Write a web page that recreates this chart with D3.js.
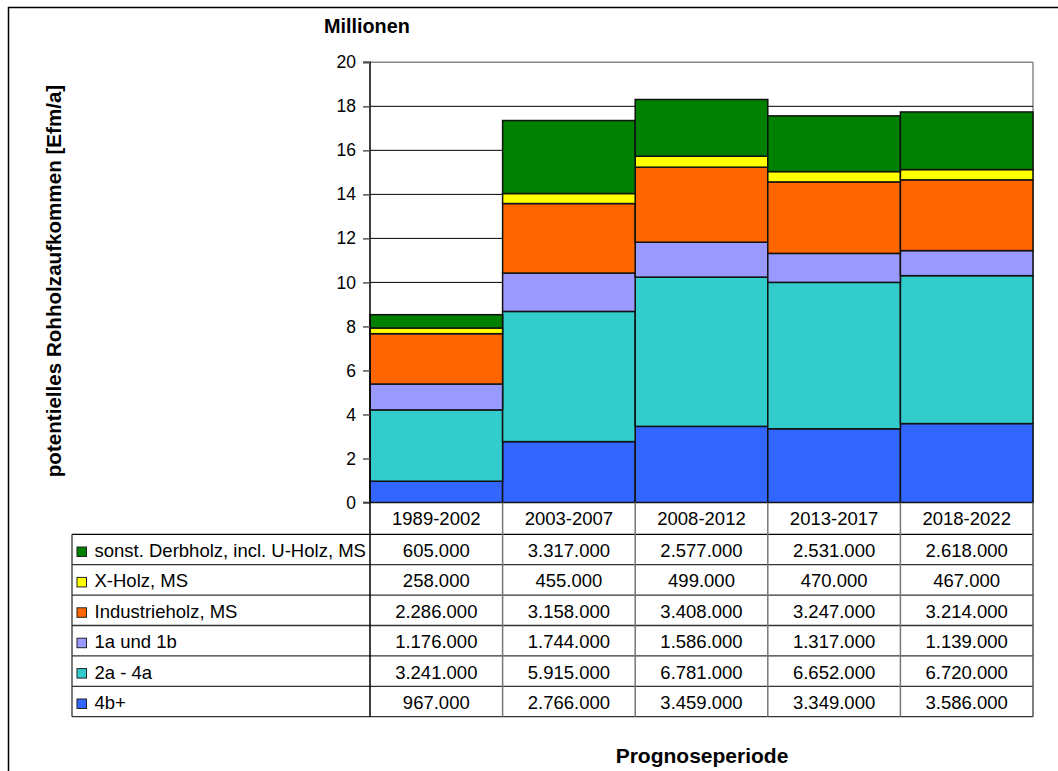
<!DOCTYPE html>
<html><head><meta charset="utf-8">
<script src="https://cdn.jsdelivr.net/npm/d3@7"></script>
<style>
html,body{margin:0;padding:0;background:#fff;}
svg{display:block;font-family:"Liberation Sans",Arial,sans-serif;}
</style></head>
<body><svg id="c" width="1058" height="771"></svg>
<script>
const categories = ["1989-2002","2003-2007","2008-2012","2013-2017","2018-2022"];
// values in thousands (Efm/a), stacking order bottom -> top
const seriesNames = ["4b+","2a - 4a","1a und 1b","Industrieholz, MS","X-Holz, MS","sonst. Derbholz, incl. U-Holz, MS"];
const v4b     = [967, 2766, 3459, 3349, 3586];
const v2a4a   = [3241, 5915, 6781, 6652, 6720];
const v1a1b   = [1176, 1744, 1586, 1317, 1139];
const vIndus  = [2286, 3158, 3408, 3247, 3214];
const vXHolz  = [258, 455, 499, 470, 467];
const vSonst  = [605, 3317, 2577, 2531, 2618];
const seriesColors = ["#3366FF","#33CCCC","#9999FF","#FF6600","#FFFF00","#008000"];
const yTicks = [0,2,4,6,8,10,12,14,16,18,20];

const seriesValues = [v4b, v2a4a, v1a1b, vIndus, vXHolz, vSonst];
const rows = categories.map((c,i)=>{
  const r = {cat:c};
  seriesNames.forEach((s,j)=> r[s] = seriesValues[j][i]/1000);
  return r;
});

const svg = d3.select("#c");
const L = 370, R = 1033, T = 62.3, B = 502.5;
const x = d3.scaleBand().domain(categories).range([L,R]).padding(0);
const y = d3.scaleLinear().domain([0,20]).range([B,T]);

// outer frame
svg.append("rect").attr("x",8.5).attr("y",7.5).attr("width",1060).attr("height",780)
  .attr("fill","none").attr("stroke","#000").attr("stroke-width",1.5);

// plot border (gray top/right)
svg.append("line").attr("x1",L).attr("x2",R).attr("y1",T).attr("y2",T).attr("stroke","#888").attr("stroke-width",1.5);
svg.append("line").attr("x1",R).attr("x2",R).attr("y1",T).attr("y2",B).attr("stroke","#888").attr("stroke-width",1.5);

// gridlines
svg.append("g").selectAll("line").data(yTicks.filter(t=>t>0 && t<20)).join("line")
  .attr("x1",L).attr("x2",R).attr("y1",d=>y(d)).attr("y2",d=>y(d))
  .attr("stroke","#000").attr("stroke-width",1);

// stacked bars
const stack = d3.stack().keys(seriesNames)(rows);
const g = svg.append("g");
stack.forEach((layer,j)=>{
  g.selectAll(null).data(layer).join("rect")
    .attr("x",d=>x(d.data.cat))
    .attr("width",x.bandwidth())
    .attr("y",d=>y(d[1]))
    .attr("height",d=>y(d[0])-y(d[1]))
    .attr("fill",seriesColors[j])
    .attr("stroke","#111").attr("stroke-width",1.5);
});

// y axis
const ya = d3.axisLeft(y).tickValues(yTicks).tickSize(7).tickPadding(7).tickFormat(d3.format("d"));
const yg = svg.append("g").attr("transform",`translate(${L},0)`).call(ya);
yg.select(".domain").attr("stroke","#000").attr("stroke-width",1.5).attr("d",`M-7,${T}H0V${B}H-7`);
yg.selectAll(".tick line").attr("stroke","#555").attr("stroke-width",1.5);
yg.selectAll(".tick text").attr("font-size","17.5px").attr("fill","#000")
  .attr("font-family","'Liberation Sans',Arial,sans-serif");

// data table
const fontSize = 18.5;
const tabL = 72, rowH = 30.4, headTop = B, headBot = 534.3;
const loc = d3.formatLocale({decimal:",", thousands:".", grouping:[3], currency:["","€"]});
const fmt = loc.format(",d");
const tg = svg.append("g").attr("font-size",fontSize+"px").attr("fill","#000");

// header labels
categories.forEach(c=>{
  tg.append("text").attr("x",x(c)+x.bandwidth()/2).attr("y",(headTop+headBot)/2+7)
    .attr("text-anchor","middle").text(c);
});
const tableRows = seriesNames.slice().reverse();
const tableColors = seriesColors.slice().reverse();
const tableVals = seriesValues.slice().reverse();
const tabBot = headBot + rowH*tableRows.length;
tableRows.forEach((s,i)=>{
  const top = headBot + i*rowH, cy = top + rowH/2;
  tg.append("rect").attr("x",77).attr("y",cy-2.5).attr("width",9.5).attr("height",9.5)
    .attr("fill",tableColors[i]).attr("stroke","#222").attr("stroke-width",1);
  tg.append("text").attr("x",94.5).attr("y",cy+7.5).text(s);
  categories.forEach((c,k)=>{
    tg.append("text").attr("x",x(c)+x.bandwidth()/2).attr("y",cy+7.5)
      .attr("text-anchor","middle").text(fmt(tableVals[i][k]*1000));
  });
});
// table lines
for(let i=0;i<=tableRows.length;i++){
  const yy = headBot + i*rowH;
  tg.append("line").attr("x1",tabL).attr("x2",R).attr("y1",yy).attr("y2",yy)
    .attr("stroke", i===0?"#000":"#333").attr("stroke-width",1.3);
}
tg.append("line").attr("x1",tabL).attr("x2",tabL).attr("y1",headBot).attr("y2",tabBot).attr("stroke","#333").attr("stroke-width",1.3);
tg.append("line").attr("x1",L).attr("x2",L).attr("y1",B).attr("y2",tabBot).attr("stroke","#000").attr("stroke-width",1.5);
categories.slice(1).forEach(c=>{
  tg.append("line").attr("x1",x(c)).attr("x2",x(c)).attr("y1",B).attr("y2",tabBot).attr("stroke","#777").attr("stroke-width",1.5);
});
tg.append("line").attr("x1",R).attr("x2",R).attr("y1",B).attr("y2",tabBot).attr("stroke","#555").attr("stroke-width",1.5);

// titles
svg.append("text").attr("x",324).attr("y",33).attr("font-size","19.8px").attr("font-weight","bold").text("Millionen");
svg.append("text").attr("x",702).attr("y",763).attr("text-anchor","middle").attr("font-size","21px").attr("font-weight","bold").text("Prognoseperiode");
svg.append("text").attr("transform","translate(61,281) rotate(-90)").attr("text-anchor","middle")
  .attr("font-size","20.6px").attr("font-weight","bold").text("potentielles Rohholzaufkommen [Efm/a]");
</script></body></html>
